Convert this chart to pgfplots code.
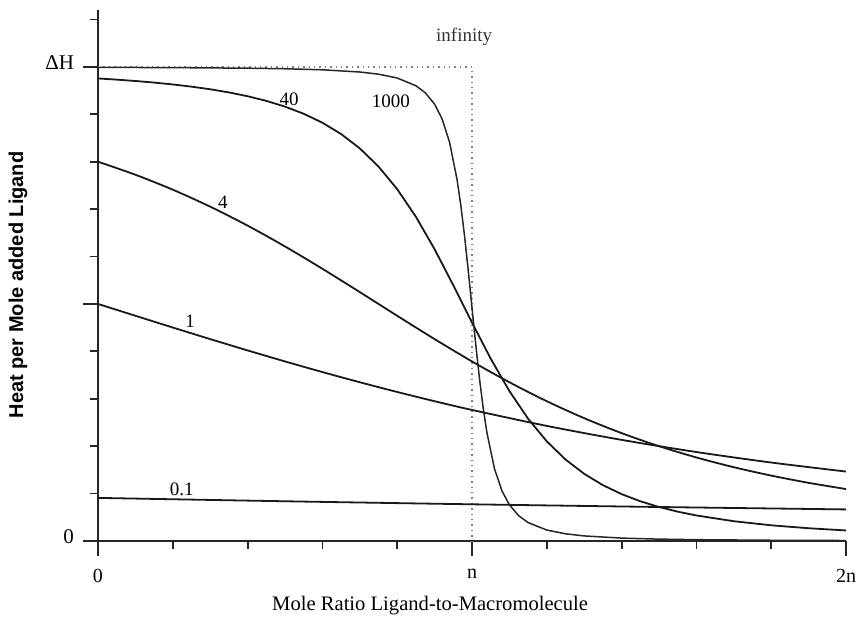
\documentclass[border=0pt]{standalone}
\usepackage{pgfplots}
\pgfplotsset{compat=1.18}
\usepackage{fontspec}
\setmainfont{Liberation Serif}
\setsansfont{Liberation Sans}
\begin{document}
\begin{tikzpicture}
\useasboundingbox (-49pt,-39pt) rectangle (379pt,270.5pt);
\begin{axis}[
  at={(0,0)}, anchor=south west,
  scale only axis, width=374pt, height=265.5pt,
  xmin=0, xmax=2, ymin=0, ymax=1.12,
  axis x line=bottom, axis y line=left,
  axis line style={-, line width=1pt, black!85},
  x axis line style={line width=1.3pt},
  clip=false,
  tick align=outside,
  xtick={0,1,2}, xticklabels={0,n,2n},
  minor xtick={0.2,0.4,0.6,0.8,1.2,1.4,1.6,1.8},
  ytick={0,0.5,1}, yticklabels={0,,ΔH\hspace{9pt}},
  minor ytick={0.1,0.2,0.3,0.4,0.6,0.7,0.8,0.9,1.1},
  major tick length=7.5pt, minor tick length=4pt,
  every tick/.style={black!85, line width=0.9pt},
  xticklabel style={font=\fontsize{10}{12}\selectfont, yshift=-3pt},
  yticklabel style={font=\fontsize{10.5}{12}\selectfont, xshift=-1pt, yshift=2pt},
]
% infinity (step) as dotted
\addplot[gray, dotted, line width=0.7pt] coordinates {(0,1) (1,1) (1,0)};
% c = 0.1
\addplot[black!90, line width=0.9pt, smooth] coordinates {(0,0.0909) (0.5,0.0838) (1,0.0774) (1.5,0.0717) (2,0.0666)};
% c = 1
\addplot[black!90, line width=0.9pt, smooth] coordinates {
(0,0.5) (0.1,0.47503) (0.2,0.45025) (0.3,0.42583) (0.4,0.40194) (0.5,0.37873)
(0.6,0.35633) (0.7,0.33483) (0.8,0.31430) (0.9,0.29482) (1.0,0.27639)
(1.2,0.24275) (1.4,0.21327) (1.6,0.18765) (1.8,0.16552) (2.0,0.14645)};
% c = 4
\addplot[black!90, line width=0.9pt, smooth] coordinates {
(0,0.8) (0.1,0.77249) (0.2,0.74096) (0.3,0.70518) (0.4,0.66518) (0.5,0.62127)
(0.6,0.57417) (0.7,0.52497) (0.8,0.47503) (0.9,0.42583) (1.0,0.37873)
(1.1,0.33482) (1.2,0.29482) (1.3,0.25904) (1.4,0.22751) (1.5,0.2)
(1.6,0.17618) (1.7,0.15562) (1.8,0.13793) (1.9,0.12270) (2.0,0.10957)};
% c = 40
\addplot[black!90, line width=0.9pt] coordinates {
(0,0.97561) (0.05,0.97311) (0.1,0.97023) (0.15,0.96688) (0.2,0.96294) (0.25,0.95830)
(0.3,0.95278) (0.35,0.94614) (0.4,0.93811) (0.45,0.92830) (0.5,0.91620) (0.55,0.90114)
(0.6,0.88224) (0.65,0.85836) (0.7,0.82810) (0.75,0.78988) (0.8,0.74210)
(0.85,0.68380) (0.9,0.61538) (0.95,0.53941) (1.0,0.46059) (1.05,0.38462)
(1.1,0.31620) (1.15,0.25790) (1.2,0.21012) (1.25,0.17190) (1.3,0.14164)
(1.35,0.11776) (1.4,0.09886) (1.45,0.08380) (1.5,0.07170) (1.55,0.06189)
(1.6,0.05386) (1.7,0.04170) (1.8,0.03312) (1.9,0.02689) (2.0,0.02222)};
% c = 1000
\addplot[black!85, line width=0.75pt] coordinates {
(0,0.99900) (0.2,0.99844) (0.4,0.99723) (0.5,0.99603) (0.6,0.99383) (0.7,0.98918)
(0.75,0.98461) (0.8,0.97651) (0.85,0.96025) (0.875,0.94541) (0.9,0.92136)
(0.92,0.89032) (0.94,0.84107) (0.96,0.76244) (0.97,0.70840) (0.98,0.64386)
(0.99,0.57044) (1.0,0.49210) (1.01,0.41432) (1.02,0.34244) (1.03,0.27994)
(1.04,0.22802) (1.06,0.15289) (1.08,0.10590) (1.1,0.07623) (1.125,0.05313)
(1.15,0.03882) (1.2,0.02306) (1.25,0.01516) (1.3,0.01069) (1.4,0.00611)
(1.5,0.00394) (1.6,0.00275) (1.8,0.00155) (2.0,0.00099)};
% curve labels
\node[font=\fontsize{9.5}{11}\selectfont, text=black!80] at (axis cs:0.979,1.064) {infinity};
\node[font=\fontsize{9.5}{11}\selectfont] at (axis cs:0.783,0.928) {1000};
\node[font=\fontsize{9.5}{11}\selectfont] at (axis cs:0.511,0.932) {40};
\node[font=\fontsize{9.5}{11}\selectfont] at (axis cs:0.334,0.715) {4};
\node[font=\fontsize{9.5}{11}\selectfont] at (axis cs:0.246,0.464) {1};
\node[font=\fontsize{9.5}{11}\selectfont] at (axis cs:0.224,0.110) {0.1};
% axis labels
\node[font=\fontsize{10.3}{12}\selectfont] at (axis cs:0.888,0) [yshift=-32.5pt] {Mole Ratio Ligand-to-Macromolecule};
\node[font=\sffamily\bfseries\fontsize{10}{12}\selectfont, xshift=-40pt, rotate=90] at (axis cs:0,0.54) {Heat per Mole added Ligand};
\end{axis}
\end{tikzpicture}
\end{document}
